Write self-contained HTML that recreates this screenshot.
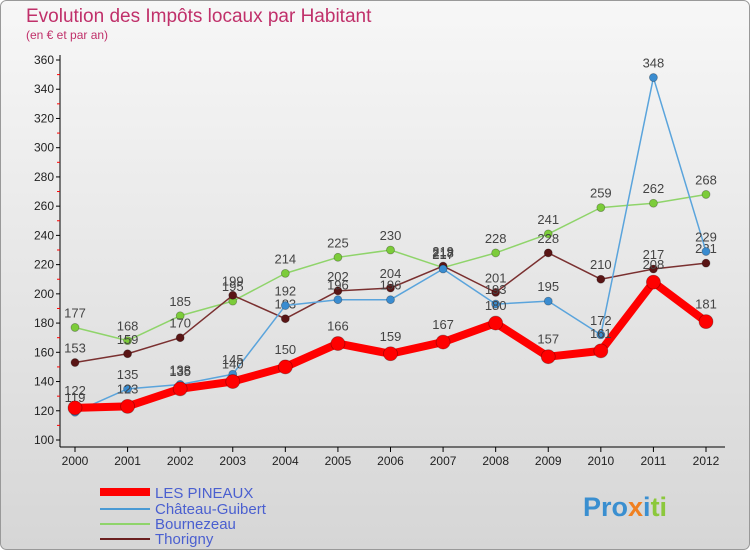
<!DOCTYPE html>
<html><head><meta charset="utf-8"><style>
body{margin:0;background:#fff}
svg{display:block;font-family:"Liberation Sans",sans-serif}
</style></head><body>
<svg id="c" width="750" height="550" viewBox="0 0 750 550">
<defs><linearGradient id="bg" x1="0" y1="0" x2="0" y2="1"><stop offset="0" stop-color="#f7f7f7"/><stop offset="1" stop-color="#d6d6d6"/></linearGradient></defs>
<rect x="0.5" y="0.5" width="749" height="549" rx="6" fill="url(#bg)" stroke="#999"/>
<text x="26" y="22" font-size="19" fill="#c0306a">Evolution des Impôts locaux par Habitant</text>
<text x="26" y="39" font-size="12" fill="#c0306a">(en € et par an)</text>
<g id="axes"></g><g id="series"></g>
<g>
<line x1="100" y1="492" x2="150" y2="492" stroke="#f00" stroke-width="8"/>
<text x="155" y="498" font-size="15" fill="#4a5fd0">LES PINEAUX</text>
<line x1="100" y1="509" x2="150" y2="509" stroke="#4a9ad4" stroke-width="2"/>
<text x="155" y="514" font-size="15" fill="#4a5fd0">Château-Guibert</text>
<line x1="100" y1="524" x2="150" y2="524" stroke="#8fd46a" stroke-width="2"/>
<text x="155" y="529" font-size="15" fill="#4a5fd0">Bournezeau</text>
<line x1="100" y1="539" x2="150" y2="539" stroke="#6b2020" stroke-width="2"/>
<text x="155" y="544" font-size="15" fill="#4a5fd0">Thorigny</text>
</g>
<text x="583" y="516" font-size="27" font-weight="bold" fill="#3a8fd0">Pro<tspan fill="#f08020">x</tspan><tspan fill="#3a8fd0">i</tspan><tspan fill="#8cc83c">ti</tspan></text>
</svg>
<script>
const years=[2000,2001,2002,2003,2004,2005,2006,2007,2008,2009,2010,2011,2012];
const yTicks=[100,120,140,160,180,200,220,240,260,280,300,320,340,360];
const lesPineaux=[122,123,135,140,150,166,159,167,180,157,161,208,181];
const chateauGuibert=[119,135,138,145,192,196,196,217,193,195,172,348,229];
const bournezeau=[177,168,185,195,214,225,230,218,228,241,259,262,268];
const thorigny=[153,159,170,199,183,202,204,219,201,228,210,217,221];
const NS="http://www.w3.org/2000/svg";
const xs=i=>75+i*(706-75)/(years.length-1);
const ys=v=>440-(v-100)*(380/260);
function mk(t,a,p){const e=document.createElementNS(NS,t);for(const k in a)e.setAttribute(k,a[k]);p.appendChild(e);return e;}
const ax=document.getElementById('axes');
let e=mk('line',{x1:60,y1:55,x2:60,y2:447,stroke:'#000'},ax);


e=mk('line',{x1:60,y1:447,x2:725,y2:447,stroke:'#000'},ax);


yTicks.forEach(v=>{const y=ys(v);
mk('line',{x1:56,y1:y,x2:60,y2:y,stroke:'#000'},ax);
if(v<360)mk('line',{x1:57,y1:ys(v+10),x2:60,y2:ys(v+10),stroke:'#f00'},ax);
const t=mk('text',{x:54,y:y+4,'font-size':12,'text-anchor':'end',fill:'#222'},ax);t.textContent=v;

});
years.forEach((yr,i)=>{const x=xs(i);
mk('line',{x1:x,y1:447,x2:x,y2:452,stroke:'#000'},ax);
const t=mk('text',{x:x,y:465,'font-size':12,'text-anchor':'middle',fill:'#222'},ax);t.textContent=yr;

});
const sg=document.getElementById('series');
function draw(name,vals,col,w,r,dot){
const g=mk('g',{},sg);


const p=mk('polyline',{points:vals.map((v,i)=>xs(i)+','+ys(v)).join(' '),fill:'none',stroke:col,'stroke-width':w,'stroke-linejoin':'round'},g);


vals.forEach((v,i)=>{const c=mk('circle',{cx:xs(i),cy:ys(v),r:r,fill:dot,stroke:'rgba(0,0,0,0.3)','stroke-width':0.8},g);


const t=mk('text',{x:xs(i),y:ys(v)-(r+6),'font-size':13,'text-anchor':'middle',fill:'#444'},g);t.textContent=v;

});}
draw('bournezeau',bournezeau,'#8fd46a',1.5,4,'#7ccc3a');
draw('thorigny',thorigny,'#7a3030',1.5,4,'#5a1515');
draw('chateau-guibert',chateauGuibert,'#5aa4dc',1.5,4,'#3a8cd0');
draw('les-pineaux',lesPineaux,'#f00',8,7,'#f00');
</script>
</body></html>
